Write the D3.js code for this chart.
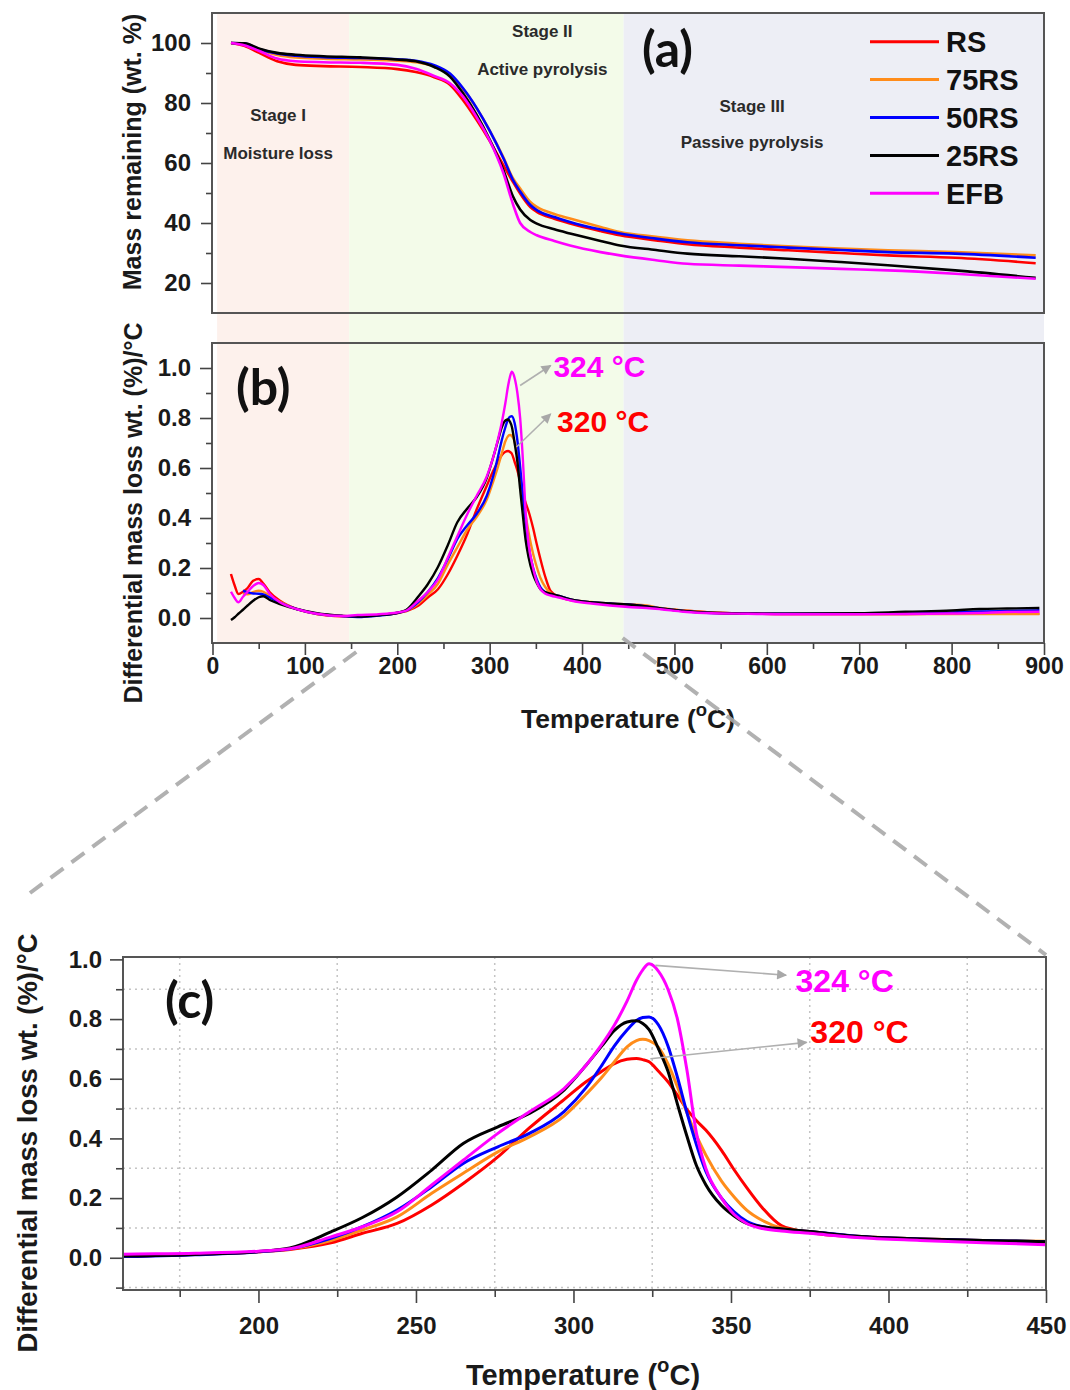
<!DOCTYPE html>
<html>
<head>
<meta charset="utf-8">
<script src="https://cdn.jsdelivr.net/npm/d3@7"></script>
<style>
  html, body { margin: 0; padding: 0; background: #fff; }
  svg { display: block; }
  text { font-family: "Liberation Sans", Arial, sans-serif; font-weight: bold; }
</style>
</head>
<body>
<svg id="chart" width="1070" height="1390"></svg>
<script>
// ---------------- DATA ----------------
const seriesNames = ["RS", "75RS", "50RS", "25RS", "EFB"];
const seriesColors = ["#ff0000", "#ff8c1a", "#0000ff", "#000000", "#ff00ff"];

// TGA (panel a): mass remaining, wt. %
const tempTGA = [20, 35, 50, 70, 90, 120, 160, 200, 220, 240, 257, 271, 286, 300, 315, 325, 333, 344, 351, 370, 387, 420, 441, 480, 514, 570, 623, 680, 731, 804, 891];
const tgaRS   = [100, 99.0, 96.8, 93.9, 92.7, 92.3, 92.0, 91.3, 90.3, 88.6, 86.1, 81.0, 74.3, 67.4, 59.2, 53.8, 49.8, 45.3, 43.7, 41.4, 39.8, 37.3, 35.9, 34.2, 32.9, 31.8, 30.9, 30.0, 29.2, 28.4, 26.6];
const tga75RS = [100, 99.6, 97.8, 96.0, 95.2, 94.8, 94.5, 94.1, 93.6, 92.2, 89.5, 84.8, 78.2, 70.8, 61.8, 55.0, 51.5, 47.0, 45.4, 43.0, 41.5, 38.7, 37.0, 35.4, 34.2, 33.1, 32.2, 31.5, 30.9, 30.3, 29.2];
const tga50RS = [100, 99.8, 98.0, 96.5, 95.8, 95.3, 95.0, 94.6, 94.1, 92.6, 89.8, 85.0, 78.3, 70.8, 61.5, 54.5, 50.5, 46.0, 44.3, 42.0, 40.3, 37.8, 36.5, 34.8, 33.6, 32.6, 31.8, 31.0, 30.3, 29.8, 28.4];
const tga25RS = [100, 99.9, 98.2, 96.7, 96.1, 95.6, 95.2, 94.5, 93.9, 92.0, 88.8, 83.3, 76.0, 67.8, 57.5, 49.0, 44.5, 41.0, 39.8, 37.9, 36.5, 34.0, 32.5, 31.0, 29.8, 28.9, 28.1, 27.0, 25.9, 24.2, 21.7];
const tgaEFB  = [100, 99.2, 97.4, 94.8, 93.9, 93.6, 93.4, 92.7, 91.4, 89.0, 86.6, 82.2, 75.2, 67.5, 56.5, 46.5, 40.0, 37.0, 35.9, 34.0, 32.5, 30.3, 29.2, 27.6, 26.4, 25.8, 25.3, 24.7, 24.2, 23.1, 21.4];

// DTG (panels b and c): differential mass loss, wt. %/°C
const tempDTG = [20, 24, 28, 33, 38, 44, 50, 55, 62, 73, 91, 113, 140, 157, 180, 200, 210, 223, 233, 244, 255, 265, 276, 286, 297, 304, 309, 313, 317, 320, 322, 324, 327, 330, 333, 336, 339, 342, 347, 351, 355, 360, 366, 375, 390, 410, 430, 450, 470, 485, 510, 540, 580, 620, 700, 750, 800, 830, 860, 895];
const dtgRS   = [0.176, 0.13, 0.096, 0.105, 0.12, 0.149, 0.156, 0.138, 0.103, 0.069, 0.036, 0.016, 0.007, 0.006, 0.012, 0.02, 0.028, 0.05, 0.082, 0.115, 0.177, 0.249, 0.338, 0.435, 0.53, 0.59, 0.625, 0.651, 0.665, 0.668, 0.664, 0.657, 0.625, 0.59, 0.545, 0.497, 0.46, 0.428, 0.36, 0.295, 0.235, 0.167, 0.108, 0.085, 0.07, 0.062, 0.057, 0.052, 0.045, 0.038, 0.03, 0.022, 0.018, 0.016, 0.016, 0.016, 0.017, 0.017, 0.017, 0.017];
const dtg75RS = [null, null, null, 0.098, 0.095, 0.103, 0.109, 0.105, 0.088, 0.065, 0.036, 0.016, 0.008, 0.006, 0.012, 0.02, 0.03, 0.058, 0.093, 0.137, 0.216, 0.283, 0.355, 0.405, 0.475, 0.548, 0.605, 0.657, 0.707, 0.728, 0.732, 0.728, 0.705, 0.65, 0.573, 0.486, 0.41, 0.345, 0.257, 0.204, 0.16, 0.125, 0.1, 0.088, 0.072, 0.064, 0.058, 0.055, 0.05, 0.04, 0.03, 0.022, 0.017, 0.016, 0.016, 0.016, 0.016, 0.016, 0.016, 0.016];
const dtg50RS = [null, null, null, 0.109, 0.103, 0.098, 0.097, 0.094, 0.082, 0.062, 0.036, 0.017, 0.008, 0.004, 0.01, 0.02, 0.03, 0.065, 0.104, 0.16, 0.238, 0.316, 0.372, 0.417, 0.49, 0.57, 0.645, 0.71, 0.763, 0.795, 0.805, 0.807, 0.78, 0.71, 0.605, 0.487, 0.38, 0.29, 0.2, 0.154, 0.122, 0.104, 0.095, 0.088, 0.072, 0.063, 0.058, 0.054, 0.046, 0.038, 0.028, 0.02, 0.018, 0.017, 0.017, 0.018, 0.022, 0.026, 0.028, 0.031];
const dtg25RS = [-0.008, 0.003, 0.017, 0.033, 0.05, 0.069, 0.083, 0.087, 0.072, 0.056, 0.036, 0.019, 0.009, 0.006, 0.011, 0.021, 0.033, 0.087, 0.135, 0.204, 0.294, 0.383, 0.439, 0.484, 0.562, 0.645, 0.71, 0.762, 0.79, 0.794, 0.785, 0.765, 0.7, 0.625, 0.515, 0.408, 0.31, 0.245, 0.175, 0.14, 0.115, 0.104, 0.097, 0.088, 0.072, 0.063, 0.058, 0.054, 0.046, 0.038, 0.028, 0.021, 0.018, 0.017, 0.019, 0.025, 0.03, 0.036, 0.038, 0.04];
const dtgEFB  = [0.105, 0.08, 0.063, 0.085, 0.105, 0.128, 0.14, 0.132, 0.096, 0.063, 0.036, 0.017, 0.008, 0.012, 0.015, 0.022, 0.03, 0.07, 0.104, 0.154, 0.244, 0.327, 0.417, 0.489, 0.567, 0.645, 0.715, 0.78, 0.86, 0.93, 0.965, 0.985, 0.96, 0.9, 0.8, 0.63, 0.42, 0.3, 0.2, 0.145, 0.115, 0.098, 0.09, 0.082, 0.068, 0.058, 0.05, 0.044, 0.04, 0.035, 0.025, 0.019, 0.017, 0.015, 0.015, 0.016, 0.018, 0.02, 0.024, 0.025];

// Stage bands (temperature ranges)
const stageNames = ["Stage I", "Stage II", "Stage III"];
const stageSub = ["Moisture loss", "Active pyrolysis", "Passive pyrolysis"];
const stageStart = [5, 148, 445];
const stageEnd = [148, 445, 900];
const stageColors = ["#fdf1ec", "#f3fbe9", "#edeef5"];
const stageLabelT = [71, 357, 584];

// Peak annotations
const peakLabels = ["324 °C", "320 °C"];
const peakColors = ["#ff00ff", "#ff0000"];
// arrows: [fromT, fromV, toT, toV]; label anchor [T, V]
const peakArrowB = [[333, 0.93, 366, 1.01], [329, 0.684, 366, 0.816]];
const peakTextB = [[369, 0.964], [373, 0.745]];
const peakArrowC = [[326, 0.98, 367.5, 0.947], [324.4, 0.667, 374, 0.722]];
const peakTextC = [[370.5, 0.89], [375.2, 0.719]];

// Tick values
const ticksAY = [20, 40, 60, 80, 100], minorAY = [30, 50, 70, 90];
const ticksBX = d3.range(0, 901, 100), minorBX = d3.range(50, 900, 100);
const ticksBY = [0, 0.2, 0.4, 0.6, 0.8, 1.0], minorBY = [0.1, 0.3, 0.5, 0.7, 0.9];
const ticksCX = [200, 250, 300, 350, 400, 450], minorCX = [175, 225, 275, 325, 375, 425];
const ticksCY = [0, 0.2, 0.4, 0.6, 0.8, 1.0], minorCY = [-0.1, 0.1, 0.3, 0.5, 0.7, 0.9];

// ---------------- BUILD ----------------
const tgaAll = [tgaRS, tga75RS, tga50RS, tga25RS, tgaEFB];
const dtgAll = [dtgRS, dtg75RS, dtg50RS, dtg25RS, dtgEFB];
const series = seriesNames.map((n, i) => ({
  name: n, color: seriesColors[i],
  tga: tempTGA.map((t, j) => [t, tgaAll[i][j]]),
  dtg: tempDTG.map((t, j) => [t, dtgAll[i][j]])
}));

const svg = d3.select("#chart");
const A = {l: 212, r: 1044, t: 13, b: 313};
const B = {l: 212, r: 1044, t: 343, b: 643};
const C = {l: 123, r: 1046, t: 957, b: 1290};

const xAB = d3.scaleLinear().domain([0, 900]).range([212.5, 1044]);
const yA = d3.scaleLinear().domain([10, 110]).range([A.b, A.t]);
const yB = d3.scaleLinear().domain([-0.1, 1.1]).range([B.b, B.t]);
const xC = d3.scaleLinear().domain([157, 450]).range([C.l, C.r]);
const yC = d3.scaleLinear().domain([-0.108, 1.008]).range([C.b, C.t]);

const defs = svg.append("defs");
function clip(id, P) {
  defs.append("clipPath").attr("id", id).append("rect")
    .attr("x", P.l).attr("y", P.t).attr("width", P.r - P.l).attr("height", P.b - P.t);
}
clip("clipA", A); clip("clipB", B); clip("clipC", C);
defs.append("marker").attr("id", "arrow").attr("viewBox", "0 0 10 10")
  .attr("refX", 9).attr("refY", 5).attr("markerWidth", 14).attr("markerHeight", 10)
  .attr("markerUnits", "userSpaceOnUse").attr("orient", "auto")
  .append("path").attr("d", "M0,0 L10,5 L0,10 z").attr("fill", "#a8a8a8");

// Stage bands spanning panels a and b
svg.append("g").selectAll("rect").data(stageStart).join("rect")
  .attr("x", d => xAB(d)).attr("width", (d, i) => Math.min(xAB(stageEnd[i]), A.r) - xAB(d))
  .attr("y", A.t).attr("height", B.b - A.t)
  .attr("fill", (d, i) => stageColors[i]);

// Stage texts
const stageTextY = [[121, 159], [37, 75], [111.5, 148]];
stageNames.forEach((s, i) => {
  const cx = xAB(stageLabelT[i]);
  svg.append("text").attr("x", cx).attr("y", stageTextY[i][0]).attr("text-anchor", "middle")
    .attr("font-size", 17).attr("fill", "#2a2a2a").text(s);
  svg.append("text").attr("x", cx).attr("y", stageTextY[i][1]).attr("text-anchor", "middle")
    .attr("font-size", 17).attr("fill", "#2a2a2a").text(stageSub[i]);
});

// helper axes
function styleAxis(g, fs) {
  g.select(".domain").remove();
  g.selectAll(".tick line").attr("stroke", "#444").attr("stroke-width", 1.6);
  g.selectAll(".tick text").attr("font-size", fs).attr("fill", "#1a1a1a")
    .style("font-family", '"Liberation Sans", Arial, sans-serif').style("font-weight", "bold");
}
function frame(P) {
  svg.append("rect").attr("x", P.l).attr("y", P.t).attr("width", P.r - P.l).attr("height", P.b - P.t)
    .attr("fill", "none").attr("stroke", "#555").attr("stroke-width", 2);
}

// ---------- Panel (a) ----------
const lineA = d3.line().x(d => xAB(d[0])).y(d => yA(d[1])).curve(d3.curveMonotoneX);
svg.append("g").attr("clip-path", "url(#clipA)").selectAll("path").data(series).join("path")
  .attr("d", d => lineA(d.tga)).attr("fill", "none").attr("stroke", d => d.color).attr("stroke-width", 2.6);
frame(A);
svg.append("g").attr("transform", `translate(${A.l},0)`)
  .call(d3.axisLeft(yA).tickValues(minorAY).tickSize(6).tickFormat(""))
  .call(g => styleAxis(g, 24));
svg.append("g").attr("transform", `translate(${A.l},0)`)
  .call(d3.axisLeft(yA).tickValues(ticksAY).tickSize(11).tickPadding(10))
  .call(g => styleAxis(g, 24));
svg.append("text").attr("transform", `translate(141,152) rotate(-90)`)
  .attr("text-anchor", "middle").attr("font-size", 25).attr("fill", "#1a1a1a").text("Mass remaining (wt. %)");
svg.append("text").attr("x", 642).attr("y", 67).attr("font-size", 50)
  .style("font-family", "Lato, 'Open Sans', sans-serif").attr("fill", "#111").text("(a)");

// legend
series.forEach((s, i) => {
  const y = 41.7 + i * 37.9;
  svg.append("line").attr("x1", 870).attr("x2", 939).attr("y1", y).attr("y2", y)
    .attr("stroke", s.color).attr("stroke-width", 3);
  svg.append("text").attr("x", 946).attr("y", y + 10.5).attr("font-size", 29).attr("fill", "#111").text(s.name);
});

// ---------- Panel (b) ----------
const lineB = d3.line().defined(d => d[1] != null).x(d => xAB(d[0])).y(d => yB(d[1])).curve(d3.curveMonotoneX);
svg.append("g").attr("clip-path", "url(#clipB)").selectAll("path").data(series).join("path")
  .attr("d", d => lineB(d.dtg)).attr("fill", "none").attr("stroke", d => d.color).attr("stroke-width", 2.4);
frame(B);
svg.append("g").attr("transform", `translate(${B.l},0)`)
  .call(d3.axisLeft(yB).tickValues(minorBY).tickSize(6).tickFormat(""))
  .call(g => styleAxis(g, 24));
svg.append("g").attr("transform", `translate(${B.l},0)`)
  .call(d3.axisLeft(yB).tickValues(ticksBY).tickSize(12).tickPadding(9).tickFormat(d3.format(".1f")))
  .call(g => styleAxis(g, 24));
svg.append("g").attr("transform", `translate(0,${B.b})`)
  .call(d3.axisBottom(xAB).tickValues(minorBX).tickSize(6).tickFormat(""))
  .call(g => styleAxis(g, 23));
svg.append("g").attr("transform", `translate(0,${B.b})`)
  .call(d3.axisBottom(xAB).tickValues(ticksBX).tickSize(12).tickPadding(3))
  .call(g => styleAxis(g, 23));
svg.append("text").attr("transform", `translate(142,513) rotate(-90)`)
  .attr("text-anchor", "middle").attr("font-size", 25).attr("fill", "#1a1a1a")
  .text("Differential mass loss wt. (%)/°C");
function tempTitle(x, y, fs) {
  const t = svg.append("text").attr("x", x).attr("y", y).attr("text-anchor", "middle")
    .attr("font-size", fs).attr("fill", "#1a1a1a");
  t.append("tspan").text("Temperature (");
  t.append("tspan").attr("font-size", fs * 0.7).attr("dy", -fs * 0.45).text("o");
  t.append("tspan").attr("dy", fs * 0.45).text("C)");
}
tempTitle(628, 728, 26.5);
svg.append("text").attr("x", 236).attr("y", 405).attr("font-size", 50)
  .style("font-family", "Lato, 'Open Sans', sans-serif").attr("fill", "#111").text("(b)");

peakLabels.forEach((lab, i) => {
  const a = peakArrowB[i];
  svg.append("line").attr("x1", xAB(a[0])).attr("y1", yB(a[1])).attr("x2", xAB(a[2])).attr("y2", yB(a[3]))
    .attr("stroke", "#b0b0b0").attr("stroke-width", 1.6).attr("marker-end", "url(#arrow)");
  svg.append("text").attr("x", xAB(peakTextB[i][0])).attr("y", yB(peakTextB[i][1]))
    .attr("font-size", 30).attr("fill", peakColors[i]).text(lab);
});

// ---------- Panel (c) ----------
const gridC = svg.append("g");
gridC.selectAll("line.v").data(minorCX).join("line").attr("class", "v")
  .attr("x1", d => xC(d)).attr("x2", d => xC(d)).attr("y1", C.t).attr("y2", C.b)
  .attr("stroke", "#c4c4c4").attr("stroke-width", 1.5).attr("stroke-dasharray", "2,4");
gridC.selectAll("line.h").data(minorCY).join("line").attr("class", "h")
  .attr("x1", C.l).attr("x2", C.r).attr("y1", d => yC(d)).attr("y2", d => yC(d))
  .attr("stroke", "#c4c4c4").attr("stroke-width", 1.5).attr("stroke-dasharray", "2,4");

const lineC = d3.line().defined(d => d[1] != null).x(d => xC(d[0])).y(d => yC(d[1])).curve(d3.curveMonotoneX);
svg.append("g").attr("clip-path", "url(#clipC)").selectAll("path").data(series).join("path")
  .attr("d", d => lineC(d.dtg.filter(p => p[0] >= 140 && p[0] <= 470)))
  .attr("fill", "none").attr("stroke", d => d.color).attr("stroke-width", 3);
frame(C);
svg.append("g").attr("transform", `translate(${C.l},0)`)
  .call(d3.axisLeft(yC).tickValues(minorCY).tickSize(7).tickFormat(""))
  .call(g => styleAxis(g, 24));
svg.append("g").attr("transform", `translate(${C.l},0)`)
  .call(d3.axisLeft(yC).tickValues(ticksCY).tickSize(13).tickPadding(8).tickFormat(d3.format(".1f")))
  .call(g => styleAxis(g, 24));
svg.append("g").attr("transform", `translate(0,${C.b})`)
  .call(d3.axisBottom(xC).tickValues(minorCX).tickSize(7).tickFormat(""))
  .call(g => styleAxis(g, 24));
svg.append("g").attr("transform", `translate(0,${C.b})`)
  .call(d3.axisBottom(xC).tickValues(ticksCX).tickSize(13).tickPadding(14))
  .call(g => styleAxis(g, 24));
svg.append("text").attr("transform", `translate(37,1143) rotate(-90)`)
  .attr("text-anchor", "middle").attr("font-size", 27.5).attr("fill", "#1a1a1a")
  .text("Differential mass loss wt. (%)/°C");
tempTitle(583, 1385, 29);
svg.append("text").attr("x", 165).attr("y", 1018).attr("font-size", 50)
  .style("font-family", "Lato, 'Open Sans', sans-serif").attr("fill", "#111").text("(c)");

peakLabels.forEach((lab, i) => {
  const a = peakArrowC[i];
  svg.append("line").attr("x1", xC(a[0])).attr("y1", yC(a[1])).attr("x2", xC(a[2])).attr("y2", yC(a[3]))
    .attr("stroke", "#b0b0b0").attr("stroke-width", 1.6).attr("marker-end", "url(#arrow)");
  svg.append("text").attr("x", xC(peakTextC[i][0])).attr("y", yC(peakTextC[i][1]))
    .attr("font-size", 32).attr("fill", peakColors[i]).text(lab);
});

// ---------- zoom connector dashed lines ----------
const conn = [[xAB(stageStart[1]) + 7, B.b + 9, 30, 893], [xAB(stageStart[2]) - 1, B.b - 5, C.r, C.t - 2]];
svg.append("g").selectAll("line").data(conn).join("line")
  .attr("x1", d => d[0]).attr("y1", d => d[1]).attr("x2", d => d[2]).attr("y2", d => d[3])
  .attr("stroke", "#a9a9a9").attr("stroke-width", 4).attr("stroke-dasharray", "16,10").attr("opacity", 0.9);
</script>
</body>
</html>
